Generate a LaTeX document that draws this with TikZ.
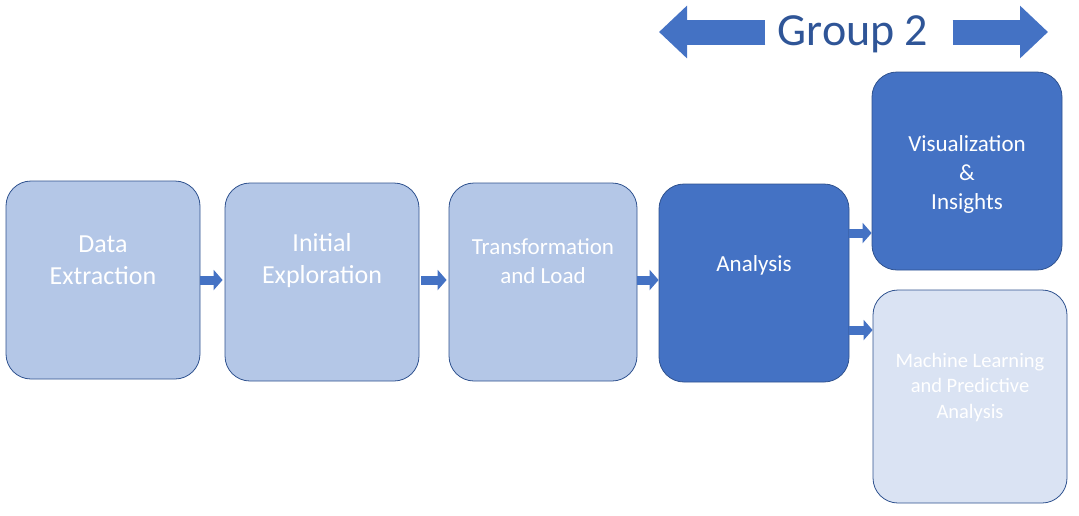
\documentclass[tikz,border=0pt]{standalone}
\usepackage{fontspec}
\setmainfont{Carlito}
\usepackage{tikz}
\usetikzlibrary{arrows.meta}
\definecolor{paleblue}{HTML}{B4C7E7}
\definecolor{midblue}{HTML}{4472C4}
\definecolor{lightblue}{HTML}{DAE3F3}
\definecolor{edgeblue}{HTML}{2F528F}
\definecolor{titleblue}{HTML}{2F5597}

\begin{document}
\begin{tikzpicture}[x=1pt,y=-1pt,
    stage/.style={draw=edgeblue,line width=0.8pt,rounded corners=25pt,minimum width=194pt,minimum height=198pt,inner sep=0pt},
    stagetext/.style={text=white,align=center,font=\fontsize{26}{32}\selectfont},
    smalltext/.style={stagetext,font=\fontsize{23}{29}\selectfont},
    link/.style={midblue,line width=9pt,-{Triangle[length=9pt,width=20pt]}},
    bigarrow/.style={midblue,line width=25pt,-{Triangle[length=28pt,width=51pt]}}]
    \useasboundingbox (0,0) rectangle (1079,515);

    \node[stage,fill=paleblue] (b1) at (103,280) {};
    \node[stage,fill=paleblue] (b2) at (322,282) {};
    \node[stage,fill=paleblue,minimum width=188pt] (b3) at (543,282) {};
    \node[stage,fill=midblue,minimum width=190pt] (b4) at (754,283) {};
    \node[stage,fill=midblue,minimum width=190pt] (b5) at (967,171) {};
    \node[stage,fill=lightblue,minimum height=213pt] (b6) at (970,396.5) {};

    \node[stagetext] (t1) at ([yshift=20pt]b1.center) {Data\\Extraction};
    \node[stagetext] (t2) at ([yshift=21pt]b2.center) {Initial\\Exploration};
    \node[smalltext] (t3) at ([yshift=21pt]b3.center) {Transformation\\and Load};
    \node[smalltext] (t4) at ([yshift=18pt]b4.center) {Analysis};
    \node[smalltext] (t5) at ([yshift=-3pt]b5.center) {Visualization\\\&\\Insights};
    \node[stagetext,font=\fontsize{20.5}{25.5}\selectfont] (t6) at ([yshift=9pt]b6.center) {Machine Learning\\and Predictive\\Analysis};

    \draw[link,shorten >=2pt] (b1.east) -- (b1.east -| b2.west);
    \draw[link,shorten <=2pt,shorten >=2pt] ([yshift=2pt]b2.east) -- ([yshift=2pt]b2.east -| b3.west);
    \draw[link] ([yshift=2pt]b3.east) -- ([yshift=2pt]b3.east -| b4.west);
    \draw[link] ([yshift=50pt]b4.east) -- ([yshift=50pt]b4.east -| b5.west);
    \draw[link] ([yshift=-47pt]b4.east) -- ([yshift=-47pt]b4.east -| b6.west);

    \node[text=titleblue,font=\fontsize{46}{55}\selectfont,anchor=base,inner xsep=0pt] (grp) at (853,45) {Group 2};
    \coordinate (gl) at (659,32);
    \coordinate (gr) at (1048,32);
    \draw[bigarrow,shorten <=12pt] (grp.west |- gl) -- (gl);
    \draw[bigarrow,shorten <=24pt] (grp.east |- gr) -- (gr);
\end{tikzpicture}
\end{document}
